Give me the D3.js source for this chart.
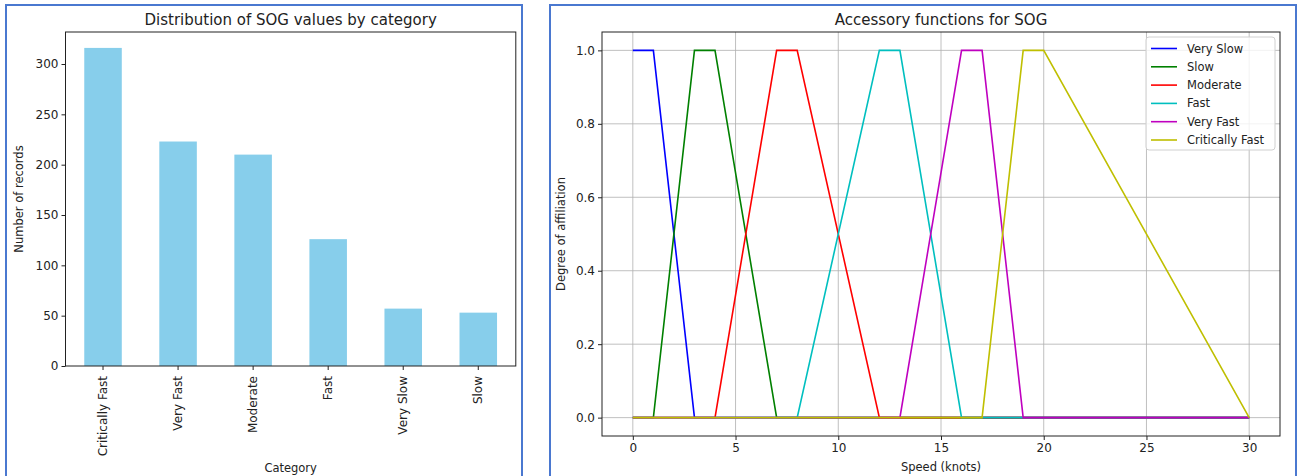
<!DOCTYPE html>
<html>
<head>
<meta charset="utf-8">
<script src="https://cdn.jsdelivr.net/npm/d3@7"></script>
<style>
  body { margin: 0; background: #fff; }
  svg text { font-family: "DejaVu Sans", sans-serif; fill: #222; }
</style>
</head>
<body>
<svg width="1298" height="476"></svg>
<script>
// bar chart data
var categories = ['Critically Fast', 'Very Fast', 'Moderate', 'Fast', 'Very Slow', 'Slow'];
var counts = [316, 223, 210, 126, 57, 53];
var countTicks = [0, 50, 100, 150, 200, 250, 300];

// membership functions (breakpoints)
var mfNames = ['Very Slow', 'Slow', 'Moderate', 'Fast', 'Very Fast', 'Critically Fast'];
var mfColors = ['#0000ff', '#008000', '#ff0000', '#00bfbf', '#bf00bf', '#bfbf00'];
var mfX = [
  [0, 1, 3, 30],
  [0, 1, 3, 4, 7, 30],
  [0, 4, 7, 8, 12, 30],
  [0, 8, 12, 13, 16, 30],
  [0, 13, 16, 17, 19, 30],
  [0, 17, 19, 20, 30]
];
var mfY = [
  [1, 1, 0, 0],
  [0, 0, 1, 1, 0, 0],
  [0, 0, 1, 1, 0, 0],
  [0, 0, 1, 1, 0, 0],
  [0, 0, 1, 1, 0, 0],
  [0, 0, 1, 1, 0]
];
var speedTicks = [0, 5, 10, 15, 20, 25, 30];
var degreeTicks = [0, 0.2, 0.4, 0.6, 0.8, 1.0];

var svg = d3.select('svg');
var fs = 11.5;
var tfs = 12;

// panel borders
svg.append('rect').attr('x', 6).attr('y', 5).attr('width', 516).attr('height', 490)
  .attr('fill', 'none').attr('stroke', '#4a78d0').attr('stroke-width', 2);
svg.append('rect').attr('x', 550).attr('y', 5).attr('width', 746).attr('height', 490)
  .attr('fill', 'none').attr('stroke', '#4a78d0').attr('stroke-width', 2);

// ---------- left: bars ----------
var L = { left: 65.5, right: 515.8, top: 32, bottom: 366 };
var gL = svg.append('g');

var x = d3.scaleBand()
  .domain(categories)
  .range([L.left, L.right])
  .paddingInner(0.5)
  .paddingOuter(0.25);

var y = d3.scaleLinear()
  .domain([0, d3.max(counts) * 1.05])
  .range([L.bottom, L.top]);

gL.selectAll('rect.bar')
  .data(counts)
  .enter().append('rect')
  .attr('class', 'bar')
  .attr('x', function(d, i) { return x(categories[i]); })
  .attr('y', function(d) { return y(d); })
  .attr('width', x.bandwidth())
  .attr('height', function(d) { return y(0) - y(d); })
  .attr('fill', '#87ceeb');

gL.append('g')
  .attr('transform', 'translate(' + L.left + ',0)')
  .call(d3.axisLeft(y).tickValues(countTicks).tickSize(4).tickPadding(3));

var xAxisL = gL.append('g')
  .attr('transform', 'translate(0,' + L.bottom + ')')
  .call(d3.axisBottom(x).tickSize(4).tickPadding(3));
xAxisL.selectAll('text')
  .attr('transform', 'rotate(-90)')
  .attr('text-anchor', 'end')
  .attr('x', -10)
  .attr('y', 0)
  .attr('dy', '0.35em');

gL.append('rect')
  .attr('x', L.left).attr('y', L.top)
  .attr('width', L.right - L.left).attr('height', L.bottom - L.top)
  .attr('fill', 'none').attr('stroke', '#222').attr('stroke-width', 1);

gL.append('text').attr('x', (L.left + L.right) / 2).attr('y', 25)
  .attr('text-anchor', 'middle').attr('font-size', 15)
  .text('Distribution of SOG values by category');
gL.append('text').attr('x', (L.left + L.right) / 2).attr('y', 472)
  .attr('text-anchor', 'middle').attr('font-size', fs)
  .text('Category');
gL.append('text')
  .attr('transform', 'translate(23,' + ((L.top + L.bottom) / 2) + ') rotate(-90)')
  .attr('text-anchor', 'middle').attr('font-size', fs)
  .text('Number of records');

// ---------- right: membership functions ----------
var R = { left: 602, right: 1280, top: 32, bottom: 436 };
var gR = svg.append('g');

var sx = d3.scaleLinear().domain([-1.5, 31.5]).range([R.left, R.right]);
var sy = d3.scaleLinear().domain([-0.05, 1.05]).range([R.bottom, R.top]);

// grid
gR.append('g').selectAll('line')
  .data(speedTicks).enter().append('line')
  .attr('x1', function(d) { return sx(d); }).attr('x2', function(d) { return sx(d); })
  .attr('y1', R.top).attr('y2', R.bottom)
  .attr('stroke', '#b0b0b0').attr('stroke-width', 0.8);
gR.append('g').selectAll('line')
  .data(degreeTicks).enter().append('line')
  .attr('y1', function(d) { return sy(d); }).attr('y2', function(d) { return sy(d); })
  .attr('x1', R.left).attr('x2', R.right)
  .attr('stroke', '#b0b0b0').attr('stroke-width', 0.8);

var line = d3.line()
  .x(function(d) { return sx(d[0]); })
  .y(function(d) { return sy(d[1]); });

mfNames.forEach(function(name, i) {
  var pts = mfX[i].map(function(v, j) { return [v, mfY[i][j]]; });
  gR.append('path')
    .attr('d', line(pts))
    .attr('fill', 'none')
    .attr('stroke', mfColors[i])
    .attr('stroke-width', 1.6);
});

gR.append('g')
  .attr('transform', 'translate(' + R.left + ',0)')
  .call(d3.axisLeft(sy).tickValues(degreeTicks).tickFormat(d3.format('.1f')).tickSize(4).tickPadding(3));
gR.append('g')
  .attr('transform', 'translate(0,' + R.bottom + ')')
  .call(d3.axisBottom(sx).tickValues(speedTicks).tickSize(4).tickPadding(3));

gR.append('rect')
  .attr('x', R.left).attr('y', R.top)
  .attr('width', R.right - R.left).attr('height', R.bottom - R.top)
  .attr('fill', 'none').attr('stroke', '#222').attr('stroke-width', 1);

// legend
var leg = gR.append('g');
leg.append('rect').attr('x', 1146).attr('y', 37).attr('width', 129).attr('height', 113)
  .attr('rx', 3).attr('fill', '#fff').attr('fill-opacity', 0.8)
  .attr('stroke', '#d0d0d0').attr('stroke-width', 1);
mfNames.forEach(function(name, i) {
  var yy = 48.5 + i * 18.3;
  leg.append('line').attr('x1', 1151).attr('x2', 1177).attr('y1', yy).attr('y2', yy)
    .attr('stroke', mfColors[i]).attr('stroke-width', 1.6);
  leg.append('text').attr('x', 1187).attr('y', yy).attr('dy', '0.35em')
    .attr('font-size', fs).text(name);
});

gR.append('text').attr('x', (R.left + R.right) / 2).attr('y', 25)
  .attr('text-anchor', 'middle').attr('font-size', 15)
  .text('Accessory functions for SOG');
gR.append('text').attr('x', (R.left + R.right) / 2).attr('y', 471)
  .attr('text-anchor', 'middle').attr('font-size', fs)
  .text('Speed (knots)');
gR.append('text')
  .attr('transform', 'translate(565,' + ((R.top + R.bottom) / 2) + ') rotate(-90)')
  .attr('text-anchor', 'middle').attr('font-size', fs)
  .text('Degree of affiliation');

svg.selectAll('.tick text').attr('font-size', tfs).style('font-family', '"DejaVu Sans", sans-serif').attr('fill', '#222');
svg.selectAll('.domain').attr('stroke', 'none');
svg.selectAll('.tick line').attr('stroke', '#222');
</script>
</body>
</html>
